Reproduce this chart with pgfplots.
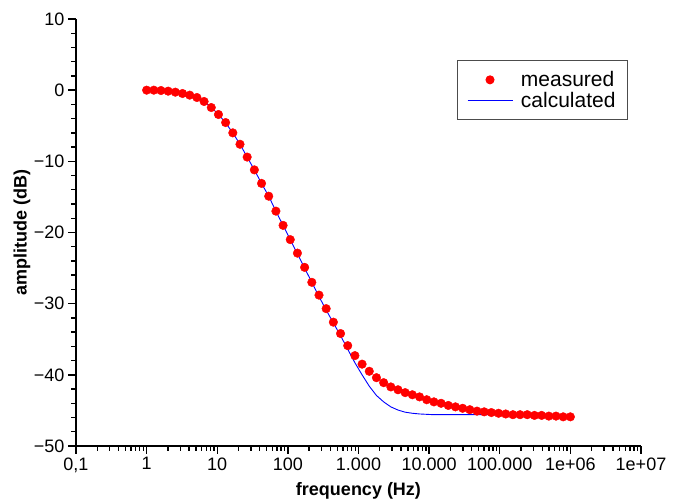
\documentclass[border=0pt]{standalone}
\usepackage{fontspec}
\setmainfont{Liberation Sans}
\usepackage{pgfplots}
\usepackage{pgfplotstable}
\pgfplotsset{compat=1.18}

% f (Hz), measured (dB), calculated (dB)
\pgfplotstableread{
f        meas    calc
1        0.00    0.00
1.264    0.00   -0.01
1.597   -0.05   -0.04
2.019   -0.14   -0.13
2.551   -0.28   -0.28
3.225   -0.47   -0.47
4.076   -0.70   -0.70
5.152   -1.03   -1.05
6.511   -1.59   -1.60
8.229   -2.44   -2.40
10.40   -3.42   -3.40
13.14   -4.55   -4.60
16.61   -6.0    -6.0
20.99   -7.6    -7.6
26.53   -9.4    -9.4
33.53   -11.2   -11.2
42.38   -13.1   -13.1
53.56   -14.9   -14.9
67.69   -17.0   -17.0
85.55   -19.0   -19.0
108.1   -21.0   -21.0
136.6   -22.9   -23.0
172.7   -24.9   -25.0
218.3   -27.0   -27.0
275.9   -28.8   -29.0
348.7   -30.7   -30.9
440.7   -32.6   -32.7
556.9   -34.2   -34.5
703.9   -35.9   -36.4
889.6   -37.3   -38.3
1124    -38.5   -40.0
1421    -39.5   -41.6
1796    -40.4   -42.9
2270    -41.1   -43.8
2869    -41.7   -44.5
3626    -42.1   -44.95
4582    -42.5   -45.25
5791    -42.8   -45.4
7319    -43.1   -45.5
9250    -43.5   -45.55
11690   -43.8   -45.6
14775   -44.0   -45.6
18673   -44.3   -45.6
23600   -44.5   -45.6
29826   -44.7   -45.6
37695   -44.9   -45.6
47640   -45.1   -45.6
60210   -45.2   -45.6
76094   -45.3   -45.6
96170   -45.4   -45.6
121500  -45.5   -45.65
153600  -45.6   -45.65
194100  -45.6   -45.65
245300  -45.6   -45.65
310100  -45.7   -45.65
391900  -45.7   -45.65
495300  -45.8   -45.7
626000  -45.8   -45.7
791100  -45.9   -45.7
1000000 -45.9   -45.7
}\bodedata

\begin{document}
\begin{tikzpicture}
\path (-76bp,-55bp) rectangle (603bp,446bp);
\begin{axis}[
  at={(0,0)}, anchor=south west,
  scale only axis, width=565bp, height=427bp,
  xmode=log, xmin=0.1, xmax=1e7,
  ymin=-50, ymax=10,
  axis lines*=left,
  axis line style={line width=1.6bp},
  tick align=outside,
  major tick length=8bp, minor tick length=5bp,
  tick style={black, line width=1.4bp},
  xtick={0.1,1,10,100,1000,10000,100000,1000000,10000000},
  xticklabels={{0,1},1,10,100,{1.000},{10.000},{100.000},{1e+06},{1e+07}},
  minor xtick={2e-1,3e-1,4e-1,5e-1,6e-1,7e-1,8e-1,9e-1,
               2,3,4,5,6,7,8,9,
               2e1,3e1,4e1,5e1,6e1,7e1,8e1,9e1,
               2e2,3e2,4e2,5e2,6e2,7e2,8e2,9e2,
               2e3,3e3,4e3,5e3,6e3,7e3,8e3,9e3,
               2e4,3e4,4e4,5e4,6e4,7e4,8e4,9e4,
               2e5,3e5,4e5,5e5,6e5,7e5,8e5,9e5,
               2e6,3e6,4e6,5e6,6e6,7e6,8e6,9e6},
  ytick={-50,-40,-30,-20,-10,0,10},
  yticklabels={−50,−40,−30,−20,−10,0,10},
  minor y tick num=4,
  tick label style={font=\fontsize{18bp}{20bp}\selectfont},
  xlabel={frequency (Hz)},
  ylabel={amplitude (dB)},
  every axis x label/.style={at={(axis description cs:0.5,-0.105)}, anchor=center,
    font=\bfseries\fontsize{18bp}{20bp}\selectfont},
  every axis y label/.style={at={(axis description cs:-0.0956,0.5)}, rotate=90, anchor=center,
    font=\bfseries\fontsize{18bp}{20bp}\selectfont},
  clip=false,
  legend style={at={(0.977,0.904)}, anchor=north east, draw=black!70, line width=1bp,
    font=\fontsize{21bp}{23bp}\selectfont, cells={anchor=west},
    inner xsep=10bp, inner ysep=9bp, row sep=0bp},
  legend style={/tikz/every odd column/.append style={column sep=6bp}},
]
\addplot[only marks, mark=*, mark size=4.3bp, color=red,
  legend image code/.code={\path[draw=none, fill=none] (0bp,0bp) -- (45bp,0bp);
    \fill[red] (22.5bp,0bp) circle (4bp);}]
  table[x=f, y=meas] {\bodedata};
\addlegendentry{measured}
\addplot[blue, line width=0.9bp, no marks,
  legend image code/.code={\draw[blue, line width=0.9bp] (0bp,0bp) -- (45bp,0bp);}]
  table[x=f, y=calc] {\bodedata};
\addlegendentry{calculated}
\end{axis}
\end{tikzpicture}
\end{document}
